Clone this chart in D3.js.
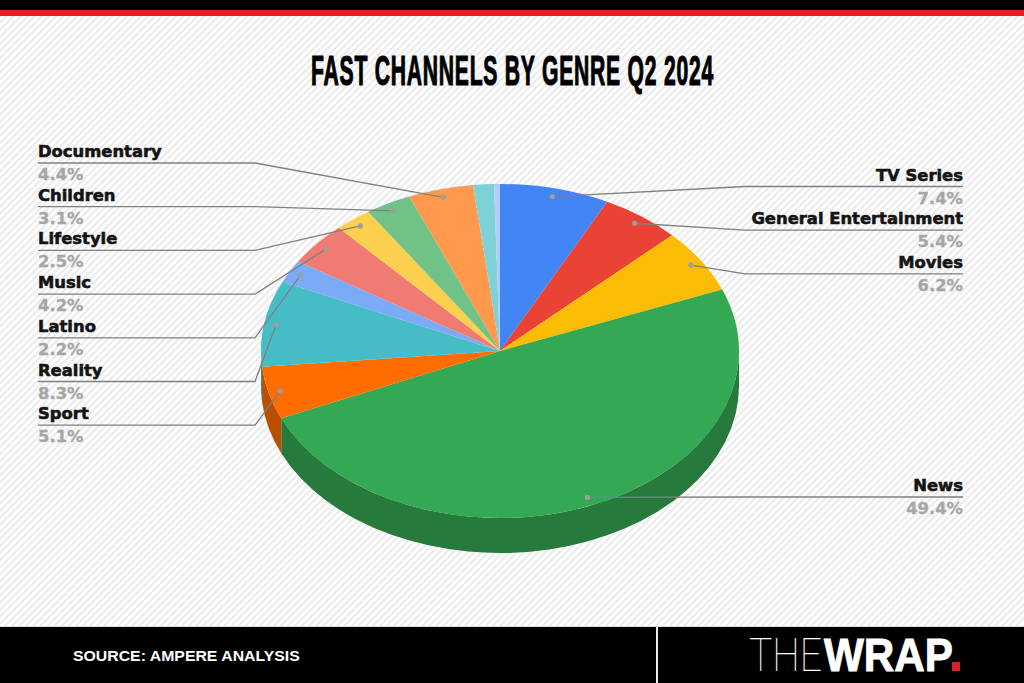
<!DOCTYPE html>
<html>
<head>
<meta charset="utf-8">
<script src="https://cdn.jsdelivr.net/npm/d3@7"></script>
<style>
html, body { margin: 0; padding: 0; background: #fff; }
svg { display: block; }
.name { font-family: "DejaVu Sans", sans-serif; font-weight: 700; font-size: 16.4px; fill: #141414; stroke: #141414; stroke-width: .6px; }
.share { font-family: "DejaVu Sans", sans-serif; font-weight: 700; font-size: 16.4px; fill: #a6a6a6; stroke: #a6a6a6; stroke-width: .3px; }
</style>
</head>
<body>
<div id="chart"></div>
<script>
const WIDTH = 1024;
const HEIGHT = 683;

// clockwise from twelve o'clock
const genres = ['TV Series', 'General Entertainment', 'Movies', 'News', 'Sport', 'Reality', 'Latino', 'Music', 'Lifestyle', 'Children', 'Documentary', '', ''];
const shares = [7.4, 5.4, 6.2, 49.4, 5.1, 8.3, 2.2, 4.2, 2.5, 3.1, 4.4, 1.4, 0.4];
const colours = ['#4285f4', '#ea4335', '#fbbc04', '#34a853', '#ff6d01', '#46bdc6', '#7baaf7', '#f07b72', '#fcd04f', '#71c287', '#ff994d', '#7ed1d7', '#b3cefb'];
const rightLabels = ['TV Series', 'General Entertainment', 'Movies', 'News'];
const leftLabels = ['Documentary', 'Children', 'Lifestyle', 'Music', 'Latino', 'Reality', 'Sport'];

const CX = 500;
const CY = 351;
const RX = 239;
const RY = 167;
const DEPTH = 35;
const ELBOW = 245;
const ROW = 43.7;

const svg = d3.select('#chart').append('svg').attr('width', WIDTH).attr('height', HEIGHT);

// squeeze or stretch a text so it spans the wanted width
const fitText = (text, x, y, width) => {
	const measured = text.node().getComputedTextLength();
	text.attr('transform', `translate(${x},${y}) scale(${width / measured},1)`);
	return text;
};

// striped page background
const hatch = svg.append('defs').append('pattern')
	.attr('id', 'hatch')
	.attr('width', 5)
	.attr('height', 5)
	.attr('patternUnits', 'userSpaceOnUse')
	.attr('patternTransform', 'rotate(45)');
hatch.append('rect').attr('width', 5).attr('height', 5).attr('fill', '#ffffff');
hatch.append('rect').attr('width', 2.2).attr('height', 5).attr('fill', '#ebebeb');
svg.append('rect').attr('width', WIDTH).attr('height', HEIGHT).attr('fill', 'url(#hatch)');

// top band
svg.append('rect').attr('width', WIDTH).attr('height', 10).attr('fill', '#000');
svg.append('rect').attr('y', 10).attr('width', WIDTH).attr('height', 6).attr('fill', '#e81e25');

const title = svg.append('text')
	.attr('font-family', '"Liberation Sans", sans-serif')
	.attr('font-weight', 700)
	.attr('font-size', 42)
	.attr('letter-spacing', 1.5)
	.attr('fill', '#000')
	.attr('stroke', '#000')
	.attr('stroke-width', 1.2)
	.text('FAST CHANNELS BY GENRE Q2 2024');
fitText(title, 311, 85, 403);

const pie = d3.pie().sort(null).value((d) => d.share);
const slices = pie(genres.map((genre, i) => ({ genre: genre, share: shares[i], colour: colours[i] })));

const px = (angle, r) => CX + RX * r * Math.sin(angle);
const py = (angle, r) => CY - RY * r * Math.cos(angle);

// side wall, only the front half of the rim shows
const sides = svg.append('g');
slices.forEach((s) => {
	const a0 = Math.max(s.startAngle, Math.PI / 2);
	const a1 = Math.min(s.endAngle, Math.PI * 1.5);
	if (a1 <= a0) {
		return;
	}
	const x0 = px(a0, 1), y0 = py(a0, 1), x1 = px(a1, 1), y1 = py(a1, 1);
	sides.append('path')
		.attr('d', `M${x0},${y0}A${RX},${RY} 0 0 1 ${x1},${y1}L${x1},${y1 + DEPTH}A${RX},${RY} 0 0 0 ${x0},${y0 + DEPTH}Z`)
		.attr('fill', d3.color(s.data.colour).darker(0.9));
});

// top face, a flat pie squashed into an ellipse
const arc = d3.arc().innerRadius(0).outerRadius(RX);
svg.append('g')
	.attr('transform', `translate(${CX},${CY}) scale(1,${RY / RX})`)
	.selectAll('path')
	.data(slices)
	.enter()
	.append('path')
		.attr('d', arc)
		.attr('fill', (d) => d.data.colour);

// leaders and labels
const line = d3.line();
const drawLabel = (genre, baseline, side) => {
	const s = slices.find((d) => d.data.genre === genre);
	const mid = (s.startAngle + s.endAngle) / 2;
	const dot = [px(mid, 0.95), py(mid, 0.95)];
	const rule = baseline + 6;
	const textX = side > 0 ? 963 : 38;
	const anchor = side > 0 ? 'end' : 'start';
	svg.append('path')
		.attr('d', line([[textX, rule], [CX + side * ELBOW, rule], dot]))
		.attr('fill', 'none')
		.attr('stroke', '#808080')
		.attr('stroke-width', 1.3);
	svg.append('circle')
		.attr('cx', dot[0])
		.attr('cy', dot[1])
		.attr('r', 2.6)
		.attr('fill', '#9e9e9e');
	svg.append('text')
		.attr('class', 'name')
		.attr('x', textX)
		.attr('y', baseline)
		.attr('text-anchor', anchor)
		.text(genre);
	svg.append('text')
		.attr('class', 'share')
		.attr('x', textX)
		.attr('y', baseline + 23)
		.attr('text-anchor', anchor)
		.text(s.data.share.toFixed(1) + '%');
};

leftLabels.forEach((genre, i) => drawLabel(genre, 157 + i * ROW, -1));
rightLabels.slice(0, 3).forEach((genre, i) => drawLabel(genre, 180.5 + i * ROW, 1));
drawLabel('News', 491, 1);

// footer
svg.append('rect').attr('y', 626).attr('width', WIDTH).attr('height', 57).attr('fill', '#000');
svg.append('rect').attr('y', 626).attr('width', WIDTH).attr('height', 1).attr('fill', '#ddd');
svg.append('rect').attr('x', 656).attr('y', 627).attr('width', 2).attr('height', 56).attr('fill', '#eee');
const source = svg.append('text')
	.attr('font-family', '"Liberation Sans", sans-serif')
	.attr('font-weight', 700)
	.attr('font-size', 15)
	.attr('fill', '#fff')
	.text('SOURCE: AMPERE ANALYSIS');
fitText(source, 73, 660.5, 227);

const logoThe = svg.append('text')
	.attr('font-family', 'Roboto, "Liberation Sans", sans-serif')
	.attr('font-weight', 100)
	.attr('font-size', 46)
	.attr('fill', '#fff')
	.text('THE');
fitText(logoThe, 749, 671, 73);
const logoWrap = svg.append('text')
	.attr('font-family', '"Liberation Sans", sans-serif')
	.attr('font-weight', 700)
	.attr('font-size', 46)
	.attr('fill', '#fff')
	.attr('stroke', '#fff')
	.attr('stroke-width', 1)
	.text('WRAP');
fitText(logoWrap, 824, 671, 129);
svg.append('rect').attr('x', 952).attr('y', 662).attr('width', 8).attr('height', 9).attr('fill', '#d2232a');
</script>
</body>
</html>
